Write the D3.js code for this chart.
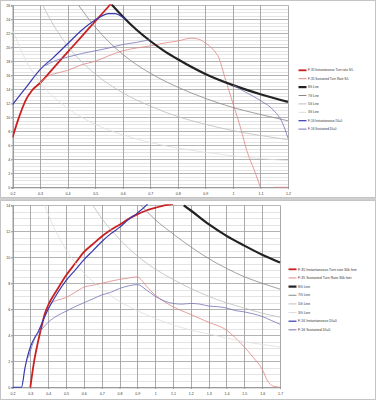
<!DOCTYPE html>
<html>
<head>
<meta charset="utf-8">
<script src="https://cdn.jsdelivr.net/npm/d3@7"></script>
<style>
  body { margin: 0; background: #fff; }
  svg { display: block; }
  text { font-family: "Liberation Sans", Arial, sans-serif; fill: #333; }
</style>
</head>
<body>
<svg id="chart" width="376" height="400"></svg>
<script>
// ---- sea level chart data (Mach, deg/s) ----
const slMachTicks = [0.2, 0.3, 0.4, 0.5, 0.6, 0.7, 0.8, 0.9, 1.0, 1.1, 1.2]
const slRateTicks = [0, 2, 4, 6, 8, 10, 12, 14, 16, 18, 20, 22, 24, 26]
const slNames = ['F-35 Instantaneous Turn rate S/L', 'F-35 Sustained Turn Rate S/L', '8G Line', '7G Line',
  '5G Line', '3G Line', 'F-16 Instantaneous DI=0', 'F-16 Sustained DI=0']

const f35InstSL = [[0.2,7.1],[0.22,9.6],[0.25,12.6],[0.27,13.8],[0.3,14.9],[0.35,17.1],[0.4,19.3],
  [0.45,21.5],[0.5,23.7],[0.55,25.9],[0.57,26.8]]
const f35SusSL = [[0.3,14.9],[0.33,15.9],[0.36,16.3],[0.4,16.7],[0.45,17.5],[0.5,18.0],[0.55,18.8],
  [0.6,19.5],[0.65,19.9],[0.7,20.2],[0.75,20.6],[0.8,20.9],[0.85,21.3],[0.88,21.1],[0.9,20.6],
  [0.93,19.6],[0.95,18.4],[0.97,15.8],[1.0,12.0],[1.03,8.2],[1.05,5.3],[1.08,2.2],[1.1,0],
  [1.12,null],[1.15,0],[1.2,0]]
const g8SL = [[0.56,26.1],[0.6,24.4],[0.65,22.5],[0.7,20.9],[0.75,19.5],[0.8,18.3],[0.9,16.2],
  [1.0,14.6],[1.1,13.3],[1.2,12.2]]
const g7SL = [[0.44,26],[0.5,22.9],[0.6,19.0],[0.7,16.3],[0.8,14.3],[0.9,12.7],[1.0,11.4],[1.1,10.4],[1.2,9.5]]
const g5SL = [[0.31,26],[0.35,23.1],[0.4,20.2],[0.5,16.2],[0.6,13.5],[0.7,11.6],[0.8,10.1],[0.9,9.0],
  [1.0,8.1],[1.1,7.4],[1.2,6.8]]
const g3SL = [[0.2,22.5],[0.25,18],[0.3,15],[0.4,11.3],[0.5,9],[0.6,7.5],[0.7,6.4],[0.8,5.6],[0.9,5],
  [1.0,4.5],[1.1,4.1],[1.2,3.8]]
const f16InstSL = [[0.2,11.8],[0.25,14.3],[0.3,16.8],[0.35,18.6],[0.4,20.5],[0.45,22.4],[0.5,23.9],
  [0.55,24.8],[0.57,24.8],[0.61,24.0]]
const f16SusSL = [[0.32,17.4],[0.35,18.0],[0.4,18.6],[0.45,19.1],[0.5,19.5],[0.55,19.9],[0.6,20.4],
  [0.65,20.7],[0.7,21.1],[0.85,null],[1.0,14.6],[1.05,13.5],[1.1,12.4],[1.15,10.9],[1.18,9.2],[1.2,7.0]]

// ---- 30k feet chart data ----
const hiMachTicks = [0.2, 0.3, 0.4, 0.5, 0.6, 0.7, 0.8, 0.9, 1.0, 1.1, 1.2, 1.3, 1.4, 1.5, 1.6, 1.7]
const hiRateTicks = [0, 2, 4, 6, 8, 10, 12, 14]
const hiNames = ['F-35 Instantaneous Turn rate 30k feet', 'F-35 Sustained Turn Rate 30k feet', '8G Line',
  '7G Line', '5G Line', '3G Line', 'F-16 Instantaneous DI=0', 'F-16 Sustained DI=0']

const f35InstHi = [[0.3,0],[0.32,1.9],[0.34,3.3],[0.36,4.5],[0.38,5.6],[0.4,6.3],[0.45,7.5],[0.5,8.6],
  [0.55,9.5],[0.6,10.4],[0.65,11.0],[0.7,11.6],[0.75,12.1],[0.8,12.5],[0.85,12.95],[0.9,13.3],
  [0.95,13.6],[1.0,13.8],[1.05,14.0],[1.1,14.1]]
const f35SusHi = [[0.4,6.2],[0.42,6.5],[0.45,6.7],[0.5,6.9],[0.55,7.3],[0.6,7.7],[0.65,7.85],[0.7,8.0],
  [0.8,8.3],[0.85,8.4],[0.9,8.5],[0.92,8.3],[0.95,7.8],[1.0,7.1],[1.05,6.6],[1.1,6.2],[1.2,5.6],
  [1.3,5.0],[1.4,4.4],[1.45,3.8],[1.5,3.1],[1.55,2.3],[1.6,1.4],[1.63,0.5],[1.66,0.1],[1.7,0]]
const g8Hi = [[1.16,14.0],[1.2,13.6],[1.3,12.55],[1.4,11.65],[1.5,10.9],[1.6,10.2],[1.7,9.6]]
const g7Hi = [[0.92,14.0],[1.0,12.9],[1.1,11.8],[1.2,10.8],[1.3,9.9],[1.4,9.15],[1.5,8.5],[1.6,8.0],[1.7,7.55]]
const g5Hi = [[0.65,14.0],[0.7,13.0],[0.8,11.4],[0.9,10.1],[1.0,9.1],[1.1,8.3],[1.2,7.6],[1.3,7.0],
  [1.4,6.5],[1.5,6.1],[1.6,5.7],[1.7,5.4]]
const g3Hi = [[0.38,14.0],[0.4,13.3],[0.5,10.6],[0.6,8.8],[0.7,7.6],[0.8,6.6],[0.9,5.9],[1.0,5.3],
  [1.1,4.8],[1.2,4.4],[1.3,4.1],[1.4,3.8],[1.5,3.5],[1.6,3.3],[1.7,3.1]]
const f16InstHi = [[0.2,0],[0.25,0],[0.27,1.5],[0.3,3.1],[0.32,3.7],[0.345,4.3],[0.37,5.1],[0.4,6.0],
  [0.45,7.2],[0.5,8.2],[0.55,9.0],[0.6,9.8],[0.65,10.5],[0.7,11.2],[0.75,11.8],[0.8,12.3],
  [0.85,12.9],[0.9,13.4],[0.95,14.0],[0.97,14.3]]
const f16SusHi = [[0.29,2.3],[0.31,3.2],[0.33,3.9],[0.36,4.4],[0.4,5.0],[0.45,5.5],[0.5,5.85],[0.55,6.2],
  [0.6,6.5],[0.65,6.8],[0.7,7.1],[0.75,7.3],[0.8,7.6],[0.85,7.8],[0.9,7.9],[0.95,7.5],[1.0,7.0],
  [1.05,6.65],[1.1,6.45],[1.15,6.4],[1.2,6.45],[1.25,6.4],[1.3,6.25],[1.35,6.2],[1.4,6.1],[1.45,5.9],
  [1.5,5.8],[1.55,5.65],[1.6,5.45],[1.65,5.15],[1.7,4.85]]

// line looks, same order as the legend
const styles = [
  { color: '#cc2020', width: 1.8 },
  { color: '#e08585', width: 0.8 },
  { color: '#222222', width: 2.2 },
  { color: '#888888', width: 0.8 },
  { color: '#bdbdbd', width: 0.8 },
  { color: '#dedede', width: 0.8 },
  { color: '#3838b0', width: 1.2 },
  { color: '#7474b8', width: 0.8 }
]

const svg = d3.select('#chart')

// frames
svg.append('rect').attr('x', 0.5).attr('y', 0.5).attr('width', 375).attr('height', 197)
  .attr('fill', '#fff').attr('stroke', '#c4c4c4')
svg.append('rect').attr('x', 0).attr('y', 198).attr('width', 376).attr('height', 2).attr('fill', '#cfcfcf')
svg.append('rect').attr('x', 0.5).attr('y', 200.5).attr('width', 375).attr('height', 199)
  .attr('fill', '#fff').attr('stroke', '#c4c4c4')

function drawChart(o) {
  const x = d3.scaleLinear().domain(o.xDomain).range([o.left, o.right])
  const y = d3.scaleLinear().domain(o.yDomain).range([o.bottom, o.top])
  const g = svg.append('g')

  // minor horizontal grid
  g.selectAll('.minor').data(d3.range(o.yDomain[0], o.yDomain[1], 0.5))
    .enter().append('line')
    .attr('x1', o.left).attr('x2', o.right)
    .attr('y1', d => Math.round(y(d)) + 0.5).attr('y2', d => Math.round(y(d)) + 0.5)
    .attr('stroke', '#d9d9d9').attr('stroke-width', 0.7)

  // major grid
  g.selectAll('.hmaj').data(o.yTicks).enter().append('line')
    .attr('x1', o.left).attr('x2', o.right)
    .attr('y1', d => Math.round(y(d)) + 0.5).attr('y2', d => Math.round(y(d)) + 0.5)
    .attr('stroke', '#a6a6a6').attr('stroke-width', 0.8)
  g.selectAll('.vmaj').data(o.xTicks).enter().append('line')
    .attr('y1', o.top).attr('y2', o.bottom)
    .attr('x1', d => Math.round(x(d)) + 0.5).attr('x2', d => Math.round(x(d)) + 0.5)
    .attr('stroke', '#a0a0a0').attr('stroke-width', 0.9)

  // axes
  const ax = g.append('g').attr('transform', `translate(0,${o.bottom})`)
    .call(d3.axisBottom(x).tickValues(o.xTicks).tickSize(1.5).tickFormat(d3.format('~g')))
  const ay = g.append('g').attr('transform', `translate(${o.left},0)`)
    .call(d3.axisLeft(y).tickValues(o.yTicks).tickSize(1.5))
  ;[ax, ay].forEach(a => {
    a.select('.domain').attr('stroke', '#888').attr('stroke-width', 0.8)
    a.selectAll('.tick line').attr('stroke', '#888')
    a.selectAll('text').attr('font-size', o.tickFont).attr('fill', '#333')
      .attr('font-family', '"Liberation Sans", Arial, sans-serif')
  })
  ax.selectAll('text').attr('dy', '0.9em')
  ay.selectAll('text').attr('x', -2.2)

  // series
  const clipId = 'clip' + o.id
  svg.append('clipPath').attr('id', clipId).append('rect')
    .attr('x', o.left).attr('y', o.top - 1).attr('width', o.right - o.left + 1).attr('height', o.bottom - o.top + 1.5)
  const line = d3.line()
    .defined(d => d[1] != null)
    .x(d => x(d[0])).y(d => y(d[1]))
    .curve(d3.curveMonotoneX)
  const lines = g.append('g').attr('clip-path', `url(#${clipId})`)
  lines.selectAll('path').data(o.series).enter().append('path')
    .attr('d', d => line(d))
    .attr('fill', 'none')
    .attr('stroke', (d, i) => styles[i].color)
    .attr('stroke-width', (d, i) => styles[i].width)
    .attr('stroke-linejoin', 'round')

  // legend
  const lg = g.append('g')
  const rows = lg.selectAll('g').data(o.names).enter().append('g')
    .attr('transform', (d, i) => `translate(${o.legendX},${o.legendY + i * o.legendStep})`)
  rows.append('line').attr('x1', 0).attr('x2', 8).attr('y1', 0).attr('y2', 0)
    .attr('stroke', (d, i) => styles[i].color)
    .attr('stroke-width', (d, i) => Math.max(styles[i].width, 1))
  rows.append('text').attr('x', 9.5).attr('y', 0).attr('dy', '0.35em')
    .attr('font-size', o.legendFont).attr('fill', '#444')
    .text(d => d)
}

drawChart({
  id: 'sl', left: 12.5, right: 288, top: 5.3, bottom: 187.3,
  xDomain: [0.2, 1.2], yDomain: [0, 26],
  xTicks: slMachTicks, yTicks: slRateTicks,
  series: [f35InstSL, f35SusSL, g8SL, g7SL, g5SL, g3SL, f16InstSL, f16SusSL],
  names: slNames, legendX: 298.5, legendY: 70.3, legendStep: 8.4,
  tickFont: 3.6, legendFont: 3.1
})

drawChart({
  id: 'hi', left: 12.5, right: 280, top: 205.3, bottom: 387.3,
  xDomain: [0.2, 1.7], yDomain: [0, 14],
  xTicks: hiMachTicks, yTicks: hiRateTicks,
  series: [f35InstHi, f35SusHi, g8Hi, g7Hi, g5Hi, g3Hi, f16InstHi, f16SusHi],
  names: hiNames, legendX: 288.5, legendY: 269.3, legendStep: 8.65,
  tickFont: 3.6, legendFont: 3.5
})
</script>
</body>
</html>
